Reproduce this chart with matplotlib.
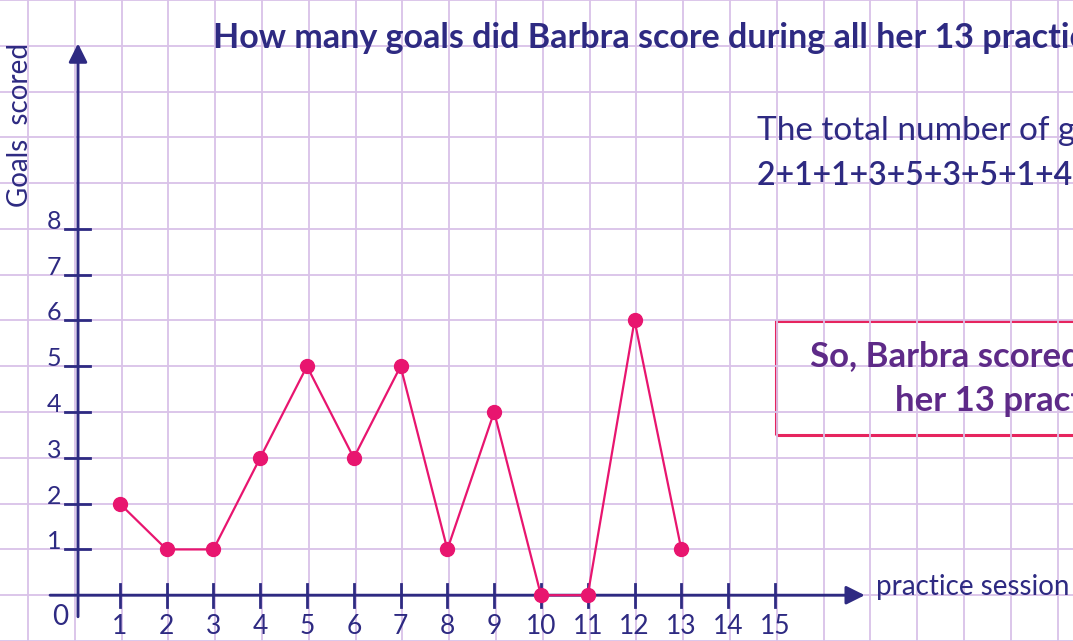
import numpy as np
from matplotlib import pyplot as plt

plt.rcParams['font.family'] = ['Lato', 'DejaVu Sans']

sessions = list(range(1, 14))
goals = [2, 1, 1, 3, 5, 3, 5, 1, 4, 0, 0, 6, 1]
x_ticks = list(range(1, 16))
y_ticks = list(range(1, 9))

navy = '#2e2a82'
pink = '#e8156f'
purple = '#5e2a88'
grid_col = '#d9c2e8'

fig = plt.figure(figsize=(10.73, 6.41), dpi=100)
ax = fig.add_axes([0, 0, 1, 1])
ax.set_xlim(-1.56, 21.37)
ax.set_ylim(-0.894, 12.745)

# paper grid
ax.set_xticks(np.arange(-1, 22) + 0.04)
ax.set_yticks(np.arange(-1, 14))
ax.grid(True, color=grid_col, lw=1.3)
ax.tick_params(length=0, labelbottom=False, labelleft=False)
for s in ax.spines.values():
    s.set_visible(False)

# axes with arrows
yx = 0.107
ax.annotate('', xy=(yx, 12.05), xytext=(yx, -0.47),
            arrowprops=dict(arrowstyle='-|>', color=navy, lw=2.1, mutation_scale=28,
                            shrinkA=0, shrinkB=0))
ax.annotate('', xy=(16.92, 0), xytext=(-0.49, 0),
            arrowprops=dict(arrowstyle='-|>', color=navy, lw=2.1, mutation_scale=28,
                            shrinkA=0, shrinkB=0))

for t in x_ticks:
    ax.plot([t, t], [-0.25, 0.25], color=navy, lw=2)
    ax.text(t, -0.85, str(t), ha='center', va='baseline', color=navy, fontsize=19)
for t in y_ticks:
    ax.plot([-0.17, 0.36], [t, t], color=navy, lw=2)
    ax.text(-0.25, t, str(t), ha='right', va='baseline', color=navy, fontsize=18)
ax.text(-0.28, -0.66, '0', ha='center', va='baseline', color=navy, fontsize=20)

ax.text(17.16, 0.0, 'practice session', ha='left', va='baseline', color=navy, fontsize=20)
ax.text(-0.96, 10.26, 'Goals  scored', ha='center', va='baseline', rotation=90,
        rotation_mode='anchor', color=navy, fontsize=20)

# the data
ax.plot(sessions, goals, color=pink, lw=1.6, marker='o', markersize=10, zorder=5)

# texts
ax.text(2.99, 11.96, 'How many goals did Barbra score during all her 13 practice sessions?',
        ha='left', va='baseline', color=navy, fontsize=24.5, fontweight='bold')
ax.text(14.62, 9.94, 'The total number of goals scored',
        ha='left', va='baseline', color=navy, fontsize=24)
ax.text(14.62, 8.96, '2+1+1+3+5+3+5+1+4+0+0+6+1 = 32',
        ha='left', va='baseline', color=navy, fontsize=23, fontweight='semibold')

box = plt.Rectangle((15.02, 3.51), 9, 2.49, fill=False, ec='#e6245e', lw=2.2)
ax.add_patch(box)
ax.text(15.75, 4.98, 'So, Barbra scored 32 goals during all',
        ha='left', va='baseline', color=purple, fontsize=25, fontweight='bold')
ax.text(17.56, 4.02, 'her 13 practice sessions.',
        ha='left', va='baseline', color=purple, fontsize=25, fontweight='bold')

fig.savefig('out.png', dpi=100)
